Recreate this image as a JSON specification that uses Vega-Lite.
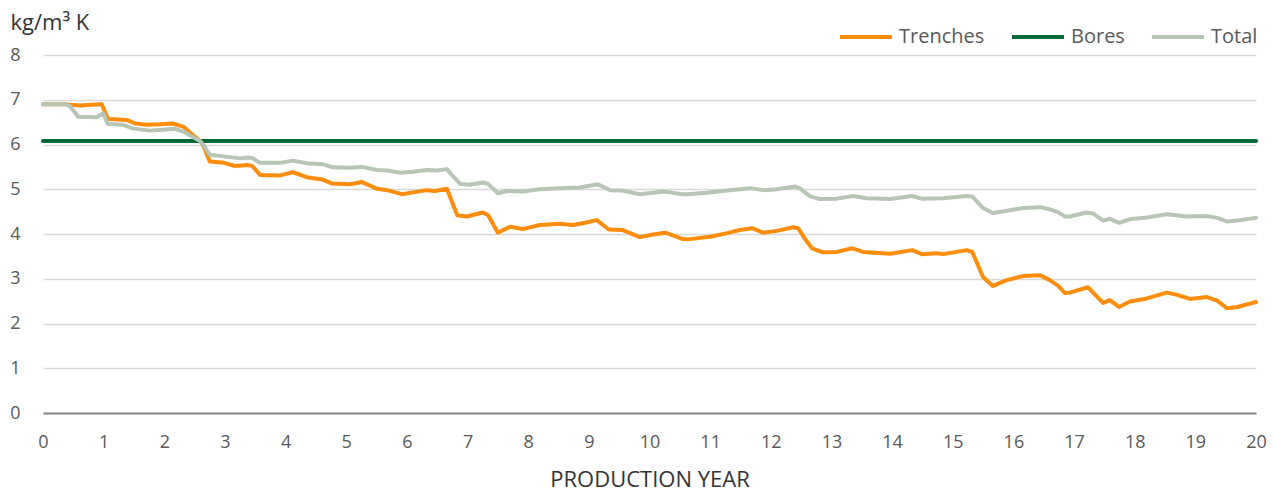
{
  "$schema": "https://vega.github.io/schema/vega-lite/v6.json",
  "width": 1213,
  "height": 358,
  "autosize": {"type": "none"},
  "padding": {"left": 43, "top": 55, "right": 18, "bottom": 80},
  "background": "white",
  "config": {"view": {"stroke": null}, "font": "Open Sans"},
  "data": {"values": [
    {"series": "Trenches", "year": 0, "value": 6.9}, {"series": "Trenches", "year": 0.36, "value": 6.9}, {"series": "Trenches", "year": 0.5, "value": 6.88}, {"series": "Trenches", "year": 0.61, "value": 6.87}, {"series": "Trenches", "year": 0.8, "value": 6.89}, {"series": "Trenches", "year": 0.97, "value": 6.9}, {"series": "Trenches", "year": 1.07, "value": 6.57}, {"series": "Trenches", "year": 1.38, "value": 6.55}, {"series": "Trenches", "year": 1.52, "value": 6.47}, {"series": "Trenches", "year": 1.71, "value": 6.44}, {"series": "Trenches", "year": 1.93, "value": 6.45}, {"series": "Trenches", "year": 2.14, "value": 6.47}, {"series": "Trenches", "year": 2.31, "value": 6.4}, {"series": "Trenches", "year": 2.47, "value": 6.21}, {"series": "Trenches", "year": 2.59, "value": 6.08}, {"series": "Trenches", "year": 2.64, "value": 5.99}, {"series": "Trenches", "year": 2.75, "value": 5.62}, {"series": "Trenches", "year": 2.95, "value": 5.6}, {"series": "Trenches", "year": 3.17, "value": 5.52}, {"series": "Trenches", "year": 3.38, "value": 5.54}, {"series": "Trenches", "year": 3.45, "value": 5.52}, {"series": "Trenches", "year": 3.58, "value": 5.32}, {"series": "Trenches", "year": 3.91, "value": 5.31}, {"series": "Trenches", "year": 4.12, "value": 5.38}, {"series": "Trenches", "year": 4.35, "value": 5.27}, {"series": "Trenches", "year": 4.6, "value": 5.22}, {"series": "Trenches", "year": 4.76, "value": 5.13}, {"series": "Trenches", "year": 5.06, "value": 5.11}, {"series": "Trenches", "year": 5.26, "value": 5.16}, {"series": "Trenches", "year": 5.51, "value": 5.01}, {"series": "Trenches", "year": 5.67, "value": 4.98}, {"series": "Trenches", "year": 5.92, "value": 4.89}, {"series": "Trenches", "year": 6.1, "value": 4.93}, {"series": "Trenches", "year": 6.33, "value": 4.98}, {"series": "Trenches", "year": 6.46, "value": 4.96}, {"series": "Trenches", "year": 6.66, "value": 5.01}, {"series": "Trenches", "year": 6.83, "value": 4.42}, {"series": "Trenches", "year": 6.99, "value": 4.39}, {"series": "Trenches", "year": 7.25, "value": 4.48}, {"series": "Trenches", "year": 7.34, "value": 4.42}, {"series": "Trenches", "year": 7.5, "value": 4.03}, {"series": "Trenches", "year": 7.7, "value": 4.16}, {"series": "Trenches", "year": 7.91, "value": 4.11}, {"series": "Trenches", "year": 8.19, "value": 4.2}, {"series": "Trenches", "year": 8.52, "value": 4.23}, {"series": "Trenches", "year": 8.74, "value": 4.2}, {"series": "Trenches", "year": 8.94, "value": 4.25}, {"series": "Trenches", "year": 9.13, "value": 4.31}, {"series": "Trenches", "year": 9.33, "value": 4.1}, {"series": "Trenches", "year": 9.55, "value": 4.09}, {"series": "Trenches", "year": 9.84, "value": 3.93}, {"series": "Trenches", "year": 10.06, "value": 3.99}, {"series": "Trenches", "year": 10.26, "value": 4.03}, {"series": "Trenches", "year": 10.34, "value": 3.99}, {"series": "Trenches", "year": 10.54, "value": 3.89}, {"series": "Trenches", "year": 10.63, "value": 3.88}, {"series": "Trenches", "year": 11.0, "value": 3.94}, {"series": "Trenches", "year": 11.28, "value": 4.02}, {"series": "Trenches", "year": 11.49, "value": 4.09}, {"series": "Trenches", "year": 11.69, "value": 4.13}, {"series": "Trenches", "year": 11.87, "value": 4.03}, {"series": "Trenches", "year": 12.1, "value": 4.07}, {"series": "Trenches", "year": 12.37, "value": 4.15}, {"series": "Trenches", "year": 12.45, "value": 4.13}, {"series": "Trenches", "year": 12.56, "value": 3.9}, {"series": "Trenches", "year": 12.68, "value": 3.68}, {"series": "Trenches", "year": 12.86, "value": 3.59}, {"series": "Trenches", "year": 13.09, "value": 3.6}, {"series": "Trenches", "year": 13.34, "value": 3.68}, {"series": "Trenches", "year": 13.52, "value": 3.6}, {"series": "Trenches", "year": 13.97, "value": 3.56}, {"series": "Trenches", "year": 14.33, "value": 3.64}, {"series": "Trenches", "year": 14.49, "value": 3.55}, {"series": "Trenches", "year": 14.74, "value": 3.57}, {"series": "Trenches", "year": 14.84, "value": 3.55}, {"series": "Trenches", "year": 15.23, "value": 3.64}, {"series": "Trenches", "year": 15.32, "value": 3.6}, {"series": "Trenches", "year": 15.5, "value": 3.04}, {"series": "Trenches", "year": 15.66, "value": 2.84}, {"series": "Trenches", "year": 15.89, "value": 2.97}, {"series": "Trenches", "year": 16.16, "value": 3.06}, {"series": "Trenches", "year": 16.44, "value": 3.08}, {"series": "Trenches", "year": 16.6, "value": 2.97}, {"series": "Trenches", "year": 16.74, "value": 2.84}, {"series": "Trenches", "year": 16.85, "value": 2.68}, {"series": "Trenches", "year": 16.93, "value": 2.69}, {"series": "Trenches", "year": 17.23, "value": 2.81}, {"series": "Trenches", "year": 17.35, "value": 2.64}, {"series": "Trenches", "year": 17.48, "value": 2.46}, {"series": "Trenches", "year": 17.59, "value": 2.52}, {"series": "Trenches", "year": 17.74, "value": 2.37}, {"series": "Trenches", "year": 17.92, "value": 2.49}, {"series": "Trenches", "year": 18.2, "value": 2.56}, {"series": "Trenches", "year": 18.53, "value": 2.69}, {"series": "Trenches", "year": 18.7, "value": 2.64}, {"series": "Trenches", "year": 18.91, "value": 2.55}, {"series": "Trenches", "year": 19.19, "value": 2.59}, {"series": "Trenches", "year": 19.36, "value": 2.51}, {"series": "Trenches", "year": 19.52, "value": 2.34}, {"series": "Trenches", "year": 19.69, "value": 2.37}, {"series": "Trenches", "year": 20.0, "value": 2.48},
    {"series": "Bores", "year": 0, "value": 6.08}, {"series": "Bores", "year": 20, "value": 6.08},
    {"series": "Total", "year": 0, "value": 6.9}, {"series": "Total", "year": 0.36, "value": 6.9}, {"series": "Total", "year": 0.45, "value": 6.85}, {"series": "Total", "year": 0.58, "value": 6.62}, {"series": "Total", "year": 0.89, "value": 6.61}, {"series": "Total", "year": 0.99, "value": 6.7}, {"series": "Total", "year": 1.07, "value": 6.46}, {"series": "Total", "year": 1.32, "value": 6.44}, {"series": "Total", "year": 1.48, "value": 6.36}, {"series": "Total", "year": 1.76, "value": 6.31}, {"series": "Total", "year": 1.98, "value": 6.33}, {"series": "Total", "year": 2.18, "value": 6.35}, {"series": "Total", "year": 2.31, "value": 6.29}, {"series": "Total", "year": 2.59, "value": 6.08}, {"series": "Total", "year": 2.64, "value": 6.0}, {"series": "Total", "year": 2.75, "value": 5.77}, {"series": "Total", "year": 2.95, "value": 5.74}, {"series": "Total", "year": 3.25, "value": 5.69}, {"series": "Total", "year": 3.38, "value": 5.71}, {"series": "Total", "year": 3.45, "value": 5.7}, {"series": "Total", "year": 3.58, "value": 5.59}, {"series": "Total", "year": 3.91, "value": 5.59}, {"series": "Total", "year": 4.12, "value": 5.64}, {"series": "Total", "year": 4.35, "value": 5.58}, {"series": "Total", "year": 4.6, "value": 5.56}, {"series": "Total", "year": 4.78, "value": 5.49}, {"series": "Total", "year": 5.06, "value": 5.48}, {"series": "Total", "year": 5.26, "value": 5.5}, {"series": "Total", "year": 5.51, "value": 5.43}, {"series": "Total", "year": 5.67, "value": 5.42}, {"series": "Total", "year": 5.89, "value": 5.37}, {"series": "Total", "year": 6.1, "value": 5.39}, {"series": "Total", "year": 6.33, "value": 5.43}, {"series": "Total", "year": 6.5, "value": 5.42}, {"series": "Total", "year": 6.66, "value": 5.45}, {"series": "Total", "year": 6.74, "value": 5.32}, {"series": "Total", "year": 6.88, "value": 5.12}, {"series": "Total", "year": 7.04, "value": 5.1}, {"series": "Total", "year": 7.25, "value": 5.15}, {"series": "Total", "year": 7.34, "value": 5.12}, {"series": "Total", "year": 7.5, "value": 4.91}, {"series": "Total", "year": 7.65, "value": 4.96}, {"series": "Total", "year": 7.91, "value": 4.95}, {"series": "Total", "year": 8.19, "value": 5.0}, {"series": "Total", "year": 8.52, "value": 5.02}, {"series": "Total", "year": 8.85, "value": 5.04}, {"series": "Total", "year": 9.15, "value": 5.11}, {"series": "Total", "year": 9.35, "value": 4.98}, {"series": "Total", "year": 9.55, "value": 4.97}, {"series": "Total", "year": 9.84, "value": 4.89}, {"series": "Total", "year": 10.22, "value": 4.95}, {"series": "Total", "year": 10.34, "value": 4.93}, {"series": "Total", "year": 10.54, "value": 4.89}, {"series": "Total", "year": 10.62, "value": 4.89}, {"series": "Total", "year": 10.95, "value": 4.92}, {"series": "Total", "year": 11.28, "value": 4.97}, {"series": "Total", "year": 11.49, "value": 5.0}, {"series": "Total", "year": 11.69, "value": 5.02}, {"series": "Total", "year": 11.87, "value": 4.98}, {"series": "Total", "year": 12.1, "value": 5.0}, {"series": "Total", "year": 12.4, "value": 5.06}, {"series": "Total", "year": 12.48, "value": 5.02}, {"series": "Total", "year": 12.65, "value": 4.84}, {"series": "Total", "year": 12.81, "value": 4.78}, {"series": "Total", "year": 13.09, "value": 4.79}, {"series": "Total", "year": 13.36, "value": 4.85}, {"series": "Total", "year": 13.58, "value": 4.8}, {"series": "Total", "year": 13.97, "value": 4.78}, {"series": "Total", "year": 14.33, "value": 4.85}, {"series": "Total", "year": 14.49, "value": 4.79}, {"series": "Total", "year": 14.84, "value": 4.8}, {"series": "Total", "year": 15.23, "value": 4.85}, {"series": "Total", "year": 15.32, "value": 4.84}, {"series": "Total", "year": 15.5, "value": 4.58}, {"series": "Total", "year": 15.66, "value": 4.47}, {"series": "Total", "year": 15.89, "value": 4.52}, {"series": "Total", "year": 16.16, "value": 4.58}, {"series": "Total", "year": 16.44, "value": 4.6}, {"series": "Total", "year": 16.6, "value": 4.55}, {"series": "Total", "year": 16.74, "value": 4.49}, {"series": "Total", "year": 16.85, "value": 4.39}, {"series": "Total", "year": 16.93, "value": 4.39}, {"series": "Total", "year": 17.2, "value": 4.48}, {"series": "Total", "year": 17.31, "value": 4.46}, {"series": "Total", "year": 17.48, "value": 4.3}, {"series": "Total", "year": 17.59, "value": 4.34}, {"series": "Total", "year": 17.74, "value": 4.25}, {"series": "Total", "year": 17.92, "value": 4.33}, {"series": "Total", "year": 18.2, "value": 4.37}, {"series": "Total", "year": 18.53, "value": 4.44}, {"series": "Total", "year": 18.86, "value": 4.39}, {"series": "Total", "year": 19.19, "value": 4.4}, {"series": "Total", "year": 19.36, "value": 4.36}, {"series": "Total", "year": 19.52, "value": 4.28}, {"series": "Total", "year": 19.69, "value": 4.3}, {"series": "Total", "year": 20.0, "value": 4.36}
  ]},
  "mark": {"type": "line", "strokeWidth": 4, "strokeCap": "round", "strokeJoin": "round"},
  "encoding": {
    "x": {
      "field": "year",
      "type": "quantitative",
      "scale": {"domain": [0, 20], "nice": false, "zero": false},
      "axis": {
        "title": "PRODUCTION YEAR",
        "values": [0, 1, 2, 3, 4, 5, 6, 7, 8, 9, 10, 11, 12, 13, 14, 15, 16, 17, 18, 19, 20],
        "grid": false,
        "ticks": false,
        "domain": true,
        "domainColor": "#868686",
        "domainWidth": 2,
        "labelFontSize": 18,
        "labelColor": "#595959",
        "labelPadding": 20,
        "labelFlush": false,
        "labelOverlap": false,
        "titleFontSize": 22,
        "titleFontWeight": "normal",
        "titleColor": "#333333",
        "titlePadding": 18,
        "zindex": 1
      }
    },
    "y": {
      "field": "value",
      "type": "quantitative",
      "scale": {"domain": [0, 8], "nice": false},
      "axis": {
        "title": "kg/m³ K",
        "titleAngle": 0,
        "titleAlign": "left",
        "titleBaseline": "alphabetic",
        "titleX": -33,
        "titleY": -26,
        "titleFontSize": 22,
        "titleFontWeight": "normal",
        "titleColor": "#333333",
        "values": [0, 1, 2, 3, 4, 5, 6, 7, 8],
        "grid": true,
        "gridColor": "#d9d9d9",
        "gridWidth": 1.5,
        "domain": false,
        "ticks": false,
        "labelFontSize": 18,
        "labelColor": "#595959",
        "labelPadding": 23
      }
    },
    "color": {
      "field": "series",
      "type": "nominal",
      "scale": {"domain": ["Trenches", "Bores", "Total"], "range": ["#FF8C0A", "#006A35", "#B7C5B5"]},
      "legend": {
        "title": null,
        "orient": "none",
        "direction": "horizontal",
        "legendX": 795,
        "legendY": -46,
        "padding": 0,
        "symbolType": "stroke",
        "symbolSize": 2704,
        "symbolStrokeWidth": 4,
        "labelFontSize": 20,
        "labelColor": "#595959",
        "labelOffset": 5,
        "columnPadding": 19
      }
    }
  }
}
